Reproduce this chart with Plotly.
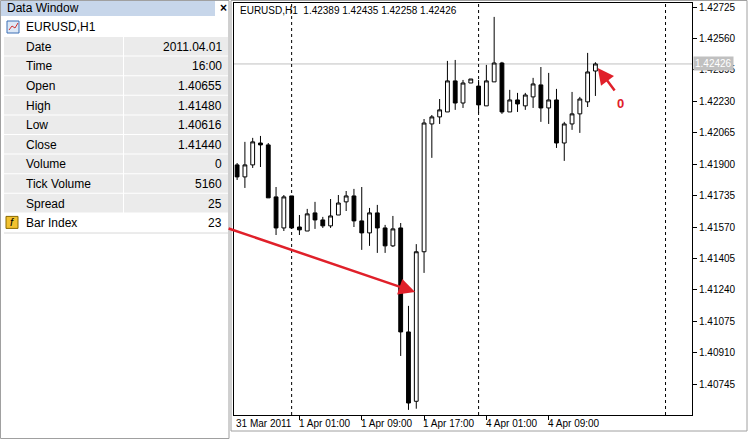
import plotly.graph_objects as go

W, H = 748, 439
opens = [1.41896,1.41833,1.41896,1.42011,1.42001,1.41728,1.41565,1.41733,1.41570,1.41549,
         1.41644,1.41607,1.41576,1.41633,1.41702,1.41733,1.41602,1.41539,1.41644,1.41565,
         1.41471,1.41565,1.41019,1.40655,1.41440,1.42111,1.42148,1.42174,1.42337,1.42221,
         1.42326,1.42310,1.42206,1.42332,1.42431,1.42174,1.42237,1.42206,1.42253,1.42316,
         1.42195,1.42237,1.42011,1.42111,1.42164,1.42227,1.42389]
highs = [1.41906,1.42017,1.42038,1.42048,1.42011,1.41780,1.41738,1.41733,1.41633,1.41665,
         1.41702,1.41623,1.41717,1.41738,1.41759,1.41770,1.41780,1.41670,1.41686,1.41581,
         1.41628,1.41591,1.41156,1.41480,1.42137,1.42158,1.42242,1.42442,1.42447,1.42342,
         1.42347,1.42342,1.42421,1.42673,1.42437,1.42290,1.42274,1.42274,1.42353,1.42410,
         1.42379,1.42295,1.42122,1.42279,1.42253,1.42484,1.42435]
lows = [1.41817,1.41775,1.41880,1.41885,1.41723,1.41528,1.41549,1.41560,1.41528,1.41549,
        1.41560,1.41565,1.41565,1.41633,1.41654,1.41570,1.41450,1.41471,1.41434,1.41434,
        1.41465,1.40893,1.40610,1.40616,1.41329,1.41933,1.42111,1.42174,1.42185,1.42195,
        1.42326,1.42169,1.42206,1.42332,1.42164,1.42174,1.42174,1.42185,1.42195,1.42122,
        1.42111,1.41985,1.41917,1.42080,1.42064,1.42200,1.42258]
closes = [1.41833,1.41896,1.42017,1.42001,1.41723,1.41565,1.41728,1.41565,1.41555,1.41639,
          1.41607,1.41576,1.41628,1.41696,1.41733,1.41602,1.41539,1.41644,1.41565,1.41471,
          1.41560,1.41019,1.40646,1.41440,1.42116,1.42148,1.42185,1.42337,1.42221,1.42326,
          1.42347,1.42211,1.42337,1.42431,1.42174,1.42237,1.42216,1.42263,1.42321,1.42195,
          1.42237,1.42011,1.42111,1.42164,1.42242,1.42384,1.42426]
price_ticks = [1.42725,1.42560,1.42395,1.42230,1.42065,1.41900,1.41735,1.41570,1.41405,
               1.41240,1.41075,1.40910,1.40745]
time_tick_idx = [0, 8, 16, 24, 32, 40]
time_tick_labels = ["31 Mar 2011","1 Apr 01:00","1 Apr 09:00","1 Apr 17:00","4 Apr 01:00","4 Apr 09:00"]
day_sep_idx = [7, 31, 55]
dw_labels = ["Date","Time","Open","High","Low","Close","Volume","Tick Volume","Spread","Bar Index"]
dw_values = ["2011.04.01","16:00","1.40655","1.41480","1.40616","1.41440","0","5160","25","23"]
sel_bar = 23
last_price = closes[-1]

def px(x): return x / W
def py(y): return 1 - y / H

x = list(range(len(opens)))
fig = go.Figure(go.Candlestick(
    x=x, open=opens, high=highs, low=lows, close=closes,
    increasing=dict(fillcolor="white", line=dict(color="black", width=1)),
    decreasing=dict(fillcolor="black", line=dict(color="black", width=1)),
    whiskerwidth=0, hoverinfo="none"))

shapes = []
ann = []
FONT = "Liberation Sans"
def text(t, x, y, xanchor="left", size=12, color="black", xref="paper", yref="paper", **kw):
    ann.append(dict(text=t, x=x, y=y, xref=xref, yref=yref, xanchor=xanchor, yanchor="middle",
                    showarrow=False, font=dict(family=FONT, size=size, color=color), **kw))

shapes.append(dict(type="rect", xref="paper", yref="paper", x0=px(231), x1=px(747), y0=py(431), y1=py(0.5),
                   line=dict(color="#A0A0A0", width=1), layer="below"))
for d in day_sep_idx:
    shapes.append(dict(type="line", xref="x", yref="y domain", x0=d, x1=d, y0=0, y1=1,
                       line=dict(color="black", width=1, dash="dot")))
shapes.append(dict(type="line", xref="x domain", yref="y", x0=0, x1=1, y0=last_price, y1=last_price,
                   line=dict(color="#C0C0C0", width=1), layer="below"))

# Data window panel
shapes.append(dict(type="rect", xref="paper", yref="paper", x0=px(0.5), x1=px(229), y0=py(438.5), y1=py(0.5),
                   fillcolor="white", line=dict(color="#A0A0A0", width=1)))
shapes.append(dict(type="rect", xref="paper", yref="paper", x0=px(1), x1=px(215), y0=py(16), y1=py(1),
                   fillcolor="#C7D6EA", line=dict(width=0)))
text("Data Window", px(5), py(8))
text("<b>×</b>", px(223), py(8), xanchor="center")
shapes.append(dict(type="rect", xref="paper", yref="paper", x0=px(7), x1=px(19), y0=py(33), y1=py(21),
                   fillcolor="#DDE8F6", line=dict(color="#3A6EB5", width=1)))
shapes.append(dict(type="path", xref="paper", yref="paper",
                   path=f"M {px(9)} {py(30)} L {px(12)} {py(26)} L {px(15)} {py(28)} L {px(18)} {py(23)}",
                   line=dict(color="#D03030", width=1)))
text("EURUSD,H1", px(24), py(27))
row0, rh = 37, 19.6
for i, (lab, val) in enumerate(zip(dw_labels, dw_values)):
    y0 = row0 + i * rh
    fill = "white" if lab == "Bar Index" else "#EBEBEB"
    shapes.append(dict(type="rect", xref="paper", yref="paper", x0=px(4), x1=px(123), y0=py(y0 + rh - 1), y1=py(y0),
                       fillcolor=fill, line=dict(width=0)))
    shapes.append(dict(type="rect", xref="paper", yref="paper", x0=px(124), x1=px(228), y0=py(y0 + rh - 1), y1=py(y0),
                       fillcolor=fill, line=dict(width=0)))
    text(lab, px(24), py(y0 + rh / 2))
    text(val, px(224), py(y0 + rh / 2), xanchor="right")
    if lab == "Bar Index":
        shapes.append(dict(type="rect", xref="paper", yref="paper", x0=px(6), x1=px(18), y0=py(y0 + 15), y1=py(y0 + 3),
                           fillcolor="#F2C230", line=dict(color="#8A6A00", width=1)))
        text("<i>f</i>", px(12), py(y0 + 9), xanchor="center", size=11)
shapes.append(dict(type="line", xref="paper", yref="paper", x0=px(4), x1=px(228), y0=py(233), y1=py(233),
                   line=dict(color="#D8D8D8", width=1)))

text(f"EURUSD,H1  {opens[-1]:.5f} {highs[-1]:.5f} {lows[-1]:.5f} {closes[-1]:.5f}", px(238), py(11), size=10)
for idx, lab in zip(time_tick_idx, time_tick_labels):
    text(lab, idx - 0.35, py(423), size=10, xref="x")
text(f"{last_price:.5f}", px(693), last_price, size=10, color="white", yref="y", bgcolor="#C0C0C0", borderpad=1)
ann.append(dict(text="", x=sel_bar - 0.15, y=1.41229, xref="x", yref="y", ax=-188, ay=-64,
                showarrow=True, arrowhead=2, arrowsize=1.3, arrowwidth=2.5, arrowcolor="#E0202A"))
ann.append(dict(text="", x=46.3, y=1.42405, xref="x", yref="y", ax=18, ay=24,
                showarrow=True, arrowhead=2, arrowsize=1.3, arrowwidth=2.5, arrowcolor="#E0202A"))
text("<b>0</b>", 46.3 + 2.9, 1.42405, xanchor="center", size=13, color="#E0202A", xref="x", yref="y", yshift=-36)

fig.update_layout(
    width=W, height=H, margin=dict(l=0, r=0, t=0, b=0, autoexpand=False), paper_bgcolor="white", plot_bgcolor="white",
    showlegend=False, shapes=shapes, annotations=ann,
    xaxis=dict(domain=[px(234), px(692)], range=[-0.4, 58.4], rangeslider=dict(visible=False), automargin=False,
               showgrid=False, zeroline=False, tickvals=time_tick_idx[1:], ticktext=[""] * 5,
               ticks="outside", ticklen=4, tickcolor="black", showline=True, linecolor="black", mirror=True),
    yaxis=dict(domain=[py(415), py(3)], range=[1.40583, 1.42746], side="right", showgrid=False, automargin=False,
               zeroline=False, tickvals=price_ticks, ticktext=[f"{v:.5f}" for v in price_ticks],
               ticks="outside", ticklen=4, tickcolor="black", showline=True, linecolor="black", mirror=True,
               tickfont=dict(family=FONT, size=10, color="black")),
)
fig.write_html("out.html", config={"displayModeBar": False},
               post_script="document.body.style.margin='0';document.body.style.overflow='hidden';")
